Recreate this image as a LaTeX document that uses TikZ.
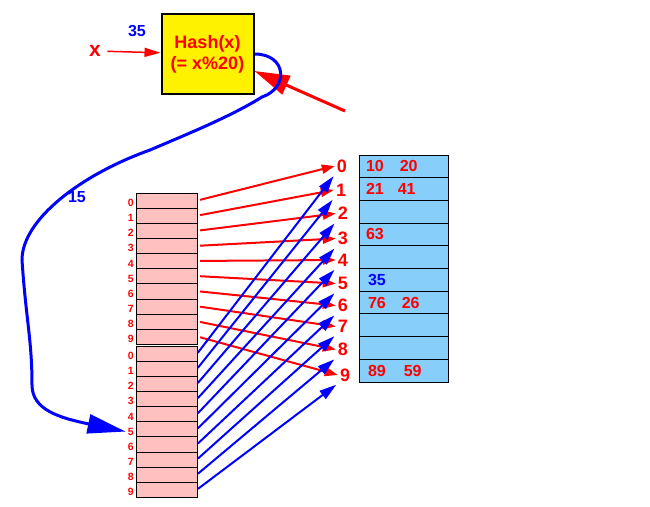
\documentclass[tikz,border=0pt]{standalone}
\usepackage{fontspec}
\setmainfont{Liberation Sans}
\usepackage{tikz}
\usetikzlibrary{arrows.meta}
\definecolor{cellpink}{RGB}{255,192,192}
\definecolor{slotblue}{RGB}{135,206,250}

\begin{document}
\begin{tikzpicture}[x=1pt, y=-1pt]
	\tikzstyle{cell} = [rectangle, draw=black, fill=cellpink, minimum width=61pt, minimum height=15.1pt, inner sep=0pt, node distance=15.1pt];
	\tikzstyle{idx} = [text=red, font=\fontsize{10.5}{12}\selectfont\bfseries, inner sep=2pt, anchor=east];
	\tikzstyle{bucket} = [text=red, font=\fontsize{18}{20}\selectfont\bfseries, inner sep=2pt];
	\tikzstyle{slot} = [rectangle, draw=black, line width=1pt, fill=slotblue, minimum height=22.7pt, text width=75pt, inner xsep=7pt, inner ysep=0pt, align=left, text=red, font=\fontsize{16}{18}\selectfont\bfseries, node distance=22.7pt];
	\tikzstyle{hashbox} = [rectangle, draw=black, line width=2pt, fill=yellow, minimum width=92pt, minimum height=80pt, align=center, text=red, font=\fontsize{18}{21}\selectfont\bfseries];
	\tikzstyle{redarrow} = [red, line width=2pt, -{Triangle[length=13pt,width=9pt]}];
	\tikzstyle{bluearrow} = [blue, line width=2pt, -{Triangle[length=17pt,width=10pt]}];
	\useasboundingbox (0,0) rectangle (650,506);

	% hash function
	\node (hash) [hashbox] at (207.5,54) {Hash(x)\\(= x\%20)};
	\node (xin) [text=red, font=\fontsize{21}{22}\selectfont\bfseries] at (95,51) {x};
	\node (key) [text=blue, font=\fontsize{16}{18}\selectfont\bfseries] at (137,31) {35};
	\node (probe) [text=blue, font=\fontsize{16}{18}\selectfont\bfseries] at (77,197) {15};
	\coordinate (ptr) at (345,111);
	\draw [red, line width=1.5pt, -{Triangle[length=16pt,width=9pt]}, shorten <=3pt] (xin) -- (hash);
	\draw [red, line width=3pt, -{Triangle[length=35pt,width=20pt]}] (ptr) -- ([yshift=-17pt]hash.east);

	% left array, two rows of ten
	\node (a0) [cell] at (166.5,200.55) {};
	\foreach \i [count=\j] in {0,...,8}
		\node (a\j) [cell, below of=a\i] {};
	\node (b0) [cell] at (166.5,353.55) {};
	\foreach \i [count=\j] in {0,...,8}
		\node (b\j) [cell, below of=b\i] {};
	\foreach \i in {0,...,9} {
		\node (ia\i) [idx, yshift=-2.5pt] at (a\i.west) {\i};
		\node (ib\i) [idx, yshift=-2.5pt] at (b\i.west) {\i};
	}

	% buckets
	\foreach \i/\x/\y in {0/342/166, 1/341/190, 2/343/213.5, 3/343/238.5, 4/343/260, 5/343/283.5, 6/343/305.5, 7/343/326.5, 8/343/349.5, 9/345/375}
		\node (l\i) [bucket] at (\x,\y) {\i};
	\node (t0) [slot] at (403.5,166.35) {10\hspace{16pt}20};
	\node (t1) [slot, below of=t0] {21\hspace{14pt}41};
	\node (t2) [slot, below of=t1] {};
	\node (t3) [slot, below of=t2] {63};
	\node (t4) [slot, below of=t3] {};
	\node (t5) [slot, below of=t4, text=blue] {\hspace{2pt}35};
	\node (t6) [slot, below of=t5] {\hspace{2pt}76\hspace{16pt}26};
	\node (t7) [slot, below of=t6] {};
	\node (t8) [slot, below of=t7] {};
	\node (t9) [slot, below of=t8] {\hspace{2pt}89\hspace{18pt}59};

	% mapping
	\foreach \i in {0,...,9}
		\draw [redarrow, shorten <=3pt] (a\i.east) -- (l\i.west);
	\foreach \i in {0,...,9}
		\draw [bluearrow, shorten <=1pt, shorten >=2pt] (b\i.east) -- (l\i.south west);

	% probe path
	\draw [blue, line width=3pt, -{Triangle[length=38pt,width=19pt]}] (hash.east) .. controls (287,54) and (289,88) .. (262,97) .. controls (230,117) and (185,135) .. (150,150) .. controls (80,175) and (22,220) .. (22,260) .. controls (26,320) and (32,340) .. (32,385) .. controls (32,410) and (60,418) .. (ib5.west);
\end{tikzpicture}
\end{document}
